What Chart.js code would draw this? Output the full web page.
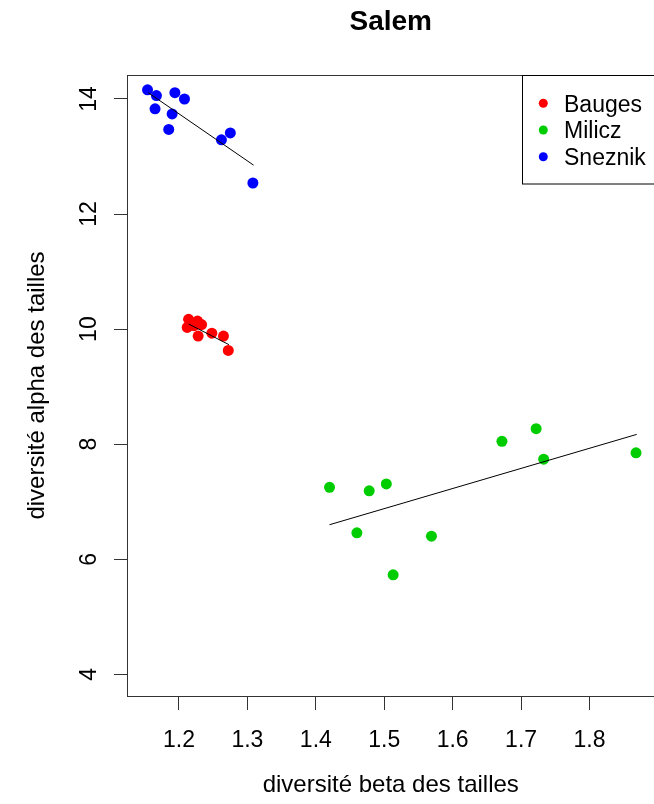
<!DOCTYPE html>
<html>
<head>
<meta charset="utf-8">
<script src="https://cdn.jsdelivr.net/npm/chart.js@4"></script>
<style>
  body { margin: 0; background: #fff; }
  #wrap { width: 654px; height: 804px; overflow: hidden; }
  canvas { display: block; }
</style>
</head>
<body>
<div id="wrap"><canvas id="chart" width="660" height="804"></canvas></div>
<script>
// --- DONNÉES ---
const seriesNames = ['Bauges', 'Milicz', 'Sneznik'];
const seriesColors = ['#FF0000', '#00CD00', '#0000FF'];

const baugesX = [1.214, 1.227, 1.233, 1.212, 1.222, 1.228, 1.248, 1.265, 1.272, 1.224];
const baugesY = [10.17, 10.14, 10.08, 10.03, 10.06, 9.88, 9.93, 9.88, 9.63, 10.10];

const miliczX = [1.420, 1.478, 1.503, 1.460, 1.569, 1.513, 1.672, 1.722, 1.733, 1.868];
const miliczY = [7.25, 7.19, 7.31, 6.46, 6.40, 5.73, 8.05, 8.27, 7.74, 7.85];

const sneznikX = [1.154, 1.167, 1.194, 1.208, 1.165, 1.190, 1.185, 1.275, 1.262, 1.308];
const sneznikY = [14.16, 14.06, 14.11, 14.00, 13.83, 13.74, 13.47, 13.41, 13.29, 12.54];

// droites de régression (extrémités)
const baugesFitX = [1.214, 1.273];
const baugesFitY = [10.09, 9.73];
const miliczFitX = [1.420, 1.869];
const miliczFitY = [6.60, 8.17];
const sneznikFitX = [1.155, 1.309];
const sneznikFitY = [14.11, 12.85];

const xTicks = [1.2, 1.3, 1.4, 1.5, 1.6, 1.7, 1.8];
const yTicks = [4, 6, 8, 10, 12, 14];

const titleText = 'Salem';
const xTitle = 'diversité beta des tailles';
const yTitle = 'diversité alpha des tailles';

// --- UTILITAIRES ---
const FONT = '"Liberation Sans", Arial, sans-serif';
const toPoints = (xs, ys) => xs.map((x, i) => ({ x: x, y: ys[i] }));

const pointSet = (i, xs, ys) => ({
    type: 'scatter',
    label: seriesNames[i],
    data: toPoints(xs, ys),
    backgroundColor: seriesColors[i],
    borderWidth: 0,
    pointRadius: 5.5,
    pointHoverRadius: 5.5,
    order: 1
});

const fitSet = (xs, ys) => ({
    type: 'line',
    data: toPoints(xs, ys),
    borderColor: '#000',
    borderWidth: 1,
    pointRadius: 0,
    fill: false,
    order: 0
});

// Textes, cadre et légende dessinés façon R
const decorPlugin = {
    id: 'decor',
    afterDraw(chart) {
        const ctx = chart.ctx;
        const area = chart.chartArea;
        const xs = chart.scales.x, ys = chart.scales.y;
        ctx.save();

        // cadre
        ctx.strokeStyle = '#333';
        ctx.lineWidth = 1;
        ctx.strokeRect(Math.round(area.left) + 0.5, Math.round(area.top) + 0.5,
            Math.round(area.right - area.left), Math.round(area.bottom - area.top));

        ctx.fillStyle = '#000';

        // titre
        ctx.font = 'bold 28px ' + FONT;
        ctx.textAlign = 'center';
        ctx.textBaseline = 'alphabetic';
        ctx.fillText(titleText, (area.left + area.right) / 2, 30);

        // étiquettes x
        ctx.font = '23px ' + FONT;
        xTicks.forEach(v => ctx.fillText(v.toFixed(1), xs.getPixelForValue(v), 747));

        // étiquettes y (verticales)
        yTicks.forEach(v => {
            ctx.save();
            ctx.translate(96, ys.getPixelForValue(v));
            ctx.rotate(-Math.PI / 2);
            ctx.fillText(String(v), 0, 0);
            ctx.restore();
        });

        // titres des axes
        ctx.font = '24px ' + FONT;
        ctx.fillText(xTitle, (area.left + area.right) / 2, 792);
        ctx.save();
        ctx.translate(44, (area.top + area.bottom) / 2);
        ctx.rotate(-Math.PI / 2);
        ctx.fillText(yTitle, 0, 0);
        ctx.restore();

        // légende
        ctx.font = '23px ' + FONT;
        ctx.strokeStyle = '#000';
        ctx.strokeRect(522.5, area.top + 0.5, 200, 108.5);
        ctx.textAlign = 'left';
        seriesNames.forEach((name, i) => {
            const yy = 103.3 + i * 26.7;
            ctx.fillStyle = seriesColors[i];
            ctx.beginPath();
            ctx.arc(543.3, yy, 4.5, 0, Math.PI * 2);
            ctx.fill();
            ctx.fillStyle = '#000';
            ctx.fillText(name, 564, yy + 8.3);
        });

        ctx.restore();
    }
};

const ctx = document.getElementById('chart').getContext('2d');
const myChart = new Chart(ctx, {
    data: {
        datasets: [
            pointSet(0, baugesX, baugesY),
            pointSet(1, miliczX, miliczY),
            pointSet(2, sneznikX, sneznikY),
            fitSet(baugesFitX, baugesFitY),
            fitSet(miliczFitX, miliczFitY),
            fitSet(sneznikFitX, sneznikFitY)
        ]
    },
    options: {
        responsive: false,
        devicePixelRatio: 1,
        animation: false,
        layout: { padding: { top: 75, left: 0, right: 0, bottom: 0 } },
        plugins: {
            legend: { display: false },
            title: { display: false },
            tooltip: { enabled: false }
        },
        scales: {
            x: {
                type: 'linear',
                min: 1.124,
                max: 1.895,
                afterBuildTicks: (s) => { s.ticks = xTicks.map(v => ({ value: v })); },
                afterFit: (s) => { s.height = 108; },
                grid: { drawOnChartArea: false, drawTicks: true, tickLength: 14, color: '#333', lineWidth: 1 },
                border: { display: false },
                ticks: { display: false }
            },
            y: {
                type: 'linear',
                min: 3.623,
                max: 14.417,
                afterBuildTicks: (s) => { s.ticks = yTicks.map(v => ({ value: v })); },
                afterFit: (s) => { s.width = 127; },
                grid: { drawOnChartArea: false, drawTicks: true, tickLength: 13, color: '#333', lineWidth: 1 },
                border: { display: false },
                ticks: { display: false }
            }
        }
    },
    plugins: [decorPlugin]
});
</script>
</body>
</html>
